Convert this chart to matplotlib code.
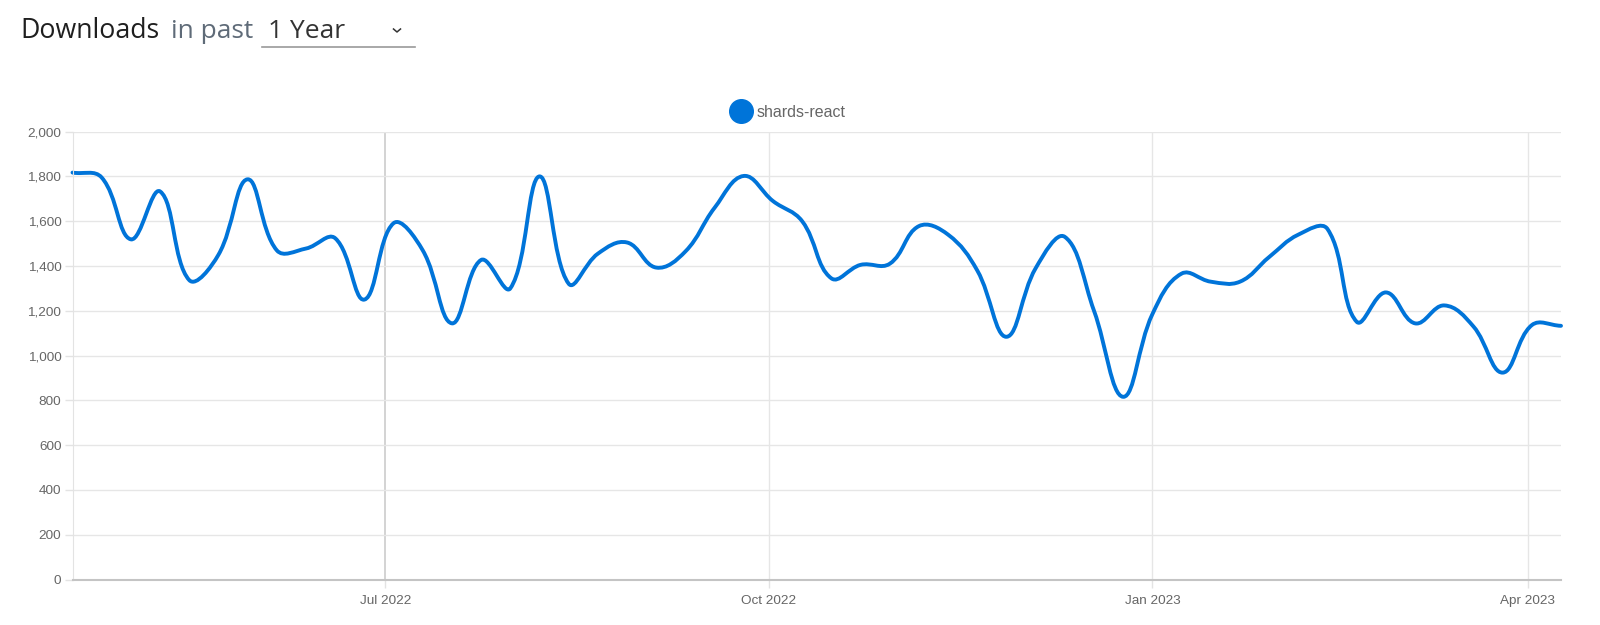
import datetime as dt
import numpy as np
import matplotlib
matplotlib.use("Agg")
import matplotlib.pyplot as plt
import matplotlib.dates as mdates
from matplotlib.path import Path
from matplotlib.patches import PathPatch
from matplotlib.lines import Line2D

# ---------------- data ----------------
package = "shards-react"
start_date = dt.date(2022, 4, 17)
downloads = [1817, 1795, 1519, 1733, 1337, 1450, 1787, 1470, 1478, 1524,
             1250, 1591, 1470, 1144, 1427, 1300, 1800, 1321, 1455, 1505,
             1393, 1465, 1660, 1802, 1690, 1600, 1345, 1405, 1410, 1578,
             1540, 1380, 1084, 1390, 1530, 1200, 816, 1185, 1366, 1330,
             1330, 1440, 1540, 1565, 1151, 1282, 1144, 1224, 1130, 924,
             1136, 1133]
y_ticks = [0, 200, 400, 600, 800, 1000, 1200, 1400, 1600, 1800, 2000]
x_tick_dates = [dt.date(2022, 7, 1), dt.date(2022, 10, 1),
                dt.date(2023, 1, 1), dt.date(2023, 4, 1)]
x_tick_labels = ["Jul 2022", "Oct 2022", "Jan 2023", "Apr 2023"]

LINE = "#0074d9"
W, H = 1600, 625

dates = [start_date + dt.timedelta(weeks=i) for i in range(len(downloads))]
xs = mdates.date2num(dates)

fig = plt.figure(figsize=(W / 100, H / 100), dpi=100)
fig.patch.set_facecolor("white")

left, right, top, bottom = 72.5, 1561, 131.6, 579.6
ax = fig.add_axes([left / W, 1 - bottom / H, (right - left) / W, (bottom - top) / H])
ax.set_xlim(xs[0], xs[-1])
ax.set_ylim(0, 2000)

# grid / axes styling
ax.set_yticks(y_ticks)
ax.set_yticklabels([f"{v:,}" for v in y_ticks])
ax.set_xticks(mdates.date2num(x_tick_dates))
ax.set_xticklabels(x_tick_labels)
ax.grid(True, axis="y", color="#e6e6e6", lw=1.0)
ax.grid(True, axis="x", color="#e6e6e6", lw=1.0)
gl = ax.get_xgridlines()
if gl:
    gl[0].set_color("#d0d0d0")
    gl[0].set_linewidth(1.3)
ax.set_axisbelow(True)
for s in ["top", "right"]:
    ax.spines[s].set_visible(False)
ax.spines["left"].set_color("#e3e3e3")
ax.spines["bottom"].set_color("#c4c4c4")
ax.spines["bottom"].set_linewidth(1.5)
ax.tick_params(axis="y", length=6, width=1, color="#e3e3e3", pad=2,
               labelsize=9.7, labelcolor="#666666")
ax.tick_params(axis="x", length=6, width=1, color="#e3e3e3", pad=5,
               labelsize=9.7, labelcolor="#666666")
for lab in ax.get_xticklabels() + ax.get_yticklabels():
    lab.set_fontfamily("Liberation Sans")

# Chart.js-style bezier spline through the weekly points (tension 0.4)
pts = ax.transData.transform(np.column_stack([xs, downloads]))
n = len(pts)
tension = 0.4
cp_prev, cp_next = [], []
for i in range(n):
    p0 = pts[max(i - 1, 0)]
    p1 = pts[i]
    p2 = pts[min(i + 1, n - 1)]
    d01 = np.hypot(*(p1 - p0))
    d12 = np.hypot(*(p2 - p1))
    tot = d01 + d12
    s01 = d01 / tot if tot else 0
    s12 = d12 / tot if tot else 0
    cp_prev.append(p1 - tension * s01 * (p2 - p0))
    cp_next.append(p1 + tension * s12 * (p2 - p0))
verts = [pts[0]]
codes = [Path.MOVETO]
for i in range(n - 1):
    verts += [cp_next[i], cp_prev[i + 1], pts[i + 1]]
    codes += [Path.CURVE4] * 3
inv = ax.transData.inverted()
verts_data = inv.transform(np.array(verts))
path = Path(verts_data, codes)
ax.add_patch(PathPatch(path, fill=False, edgecolor=LINE, lw=2.8,
                       capstyle="round", joinstyle="round", clip_on=False))

# ---------------- header ----------------
def fx(px):
    return px / W

def fy(py):
    return 1 - py / H

fig.text(fx(20.5), fy(38.5), "Downloads", fontsize=19.3, color="#1f1f1f",
         family="Open Sans", va="baseline", ha="left")
fig.text(fx(171), fy(38.5), "in past", fontsize=19, color="#5f6b78",
         family="Open Sans", va="baseline", ha="left")
fig.text(fx(268), fy(38.5), "1 Year", fontsize=19, color="#333333",
         family="Open Sans", va="baseline", ha="left")
fig.add_artist(Line2D([fx(262), fx(415)], [fy(47), fy(47)], color="#9a9a9a",
                      lw=1.2, transform=fig.transFigure))
fig.add_artist(Line2D([fx(393.5), fx(397), fx(400.5)], [fy(29), fy(32), fy(29)],
                      color="#333333", lw=1.1, transform=fig.transFigure))

# legend
fig.add_artist(Line2D([fx(741)], [fy(111)], marker="o", markersize=17,
                      markerfacecolor=LINE, markeredgecolor=LINE,
                      transform=fig.transFigure))
fig.text(fx(757), fy(111), package, fontsize=11.5, color="#666666",
         family="Liberation Sans", va="center_baseline", ha="left")

fig.savefig("out.png", dpi=100, facecolor="white")
